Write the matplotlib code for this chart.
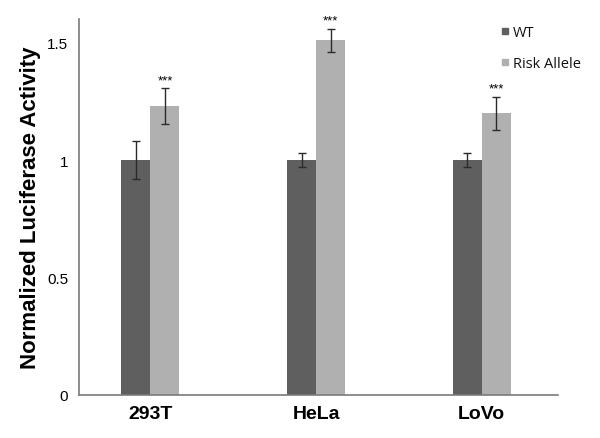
import numpy as np
import matplotlib
matplotlib.use("Agg")
import matplotlib.pyplot as plt
from matplotlib.lines import Line2D

cells = ["293T", "HeLa", "LoVo"]
wt = [1.0, 1.0, 1.0]
wt_err = [0.08, 0.03, 0.03]
risk = [1.23, 1.51, 1.20]
risk_err = [0.075, 0.05, 0.07]
stars = ["***", "***", "***"]

plt.rcParams['font.family'] = ['Liberation Sans', 'DejaVu Sans']

fig = plt.figure(figsize=(6, 4.39), dpi=100)
ax = fig.add_axes([0.132, 0.098, 0.798, 0.856])

x = np.arange(len(cells))
w = 0.175
wt_col = "#5f5f5f"
risk_col = "#b0b0b0"

ax.bar(x - w / 2, wt, w, color=wt_col, yerr=wt_err,
       error_kw=dict(ecolor="#2a2a2a", elinewidth=1, capsize=3, capthick=1))
ax.bar(x + w / 2, risk, w, color=risk_col, yerr=risk_err,
       error_kw=dict(ecolor="#2a2a2a", elinewidth=1, capsize=3, capthick=1))

for xi, r, e, s in zip(x, risk, risk_err, stars):
    ax.text(xi + w / 2, r + e + 0.008, s, ha="center", va="bottom", fontsize=9.5)

ax.set_xlim(-0.43, 2.46)
ax.set_ylim(0, 1.6)
ax.set_yticks([0, 0.5, 1, 1.5])
ax.set_yticklabels(["0", "0.5", "1", "1.5"], fontsize=11)
ax.set_xticks(x)
ax.set_xticklabels(cells, fontsize=14, fontweight="bold")
ax.tick_params(axis="both", length=0, pad=7)
ax.tick_params(axis="y", pad=8)
ax.set_ylabel("Normalized Luciferase Activity", fontsize=16, fontweight="bold", labelpad=4)

for side in ["top", "right"]:
    ax.spines[side].set_visible(False)
for side in ["left", "bottom"]:
    ax.spines[side].set_color("#7a7a7a")
    ax.spines[side].set_linewidth(1.2)

handles = [Line2D([], [], marker="s", linestyle="none", color=wt_col, markersize=4),
           Line2D([], [], marker="s", linestyle="none", color=risk_col, markersize=4)]
leg = ax.legend(handles, ["WT", "Risk Allele"], loc="upper left",
                bbox_to_anchor=(0.85, 1.02), frameon=False, handletextpad=0.15,
                handlelength=0.8, labelspacing=1.1, prop=dict(family="Open Sans", size=10.5))
for t in leg.get_texts():
    t.set_color("#111111")

fig.savefig("out.png", dpi=100)
